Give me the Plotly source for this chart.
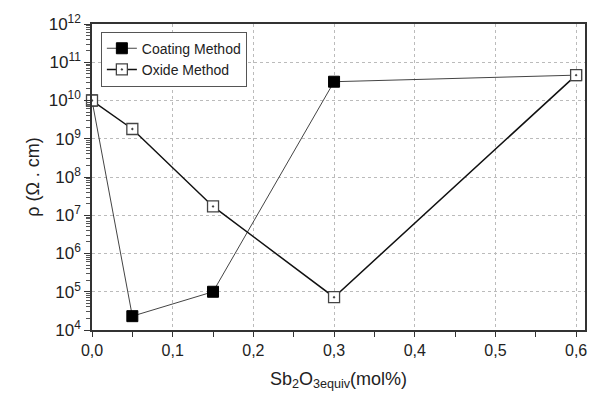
import plotly.graph_objects as go

# Sb2O3 equivalent content (mol%) and resistivity (ohm.cm)
x_coating = [0.0, 0.05, 0.15, 0.30, 0.60]
rho_coating = [1.0e10, 2.3e4, 1.0e5, 3.1e10, 4.6e10]

x_oxide = [0.0, 0.05, 0.15, 0.30, 0.60]
rho_oxide = [1.0e10, 1.8e9, 1.7e7, 7.2e4, 4.6e10]

x_tick_vals = [0.0, 0.1, 0.2, 0.3, 0.4, 0.5, 0.6]
x_tick_text = ["0,0", "0,1", "0,2", "0,3", "0,4", "0,5", "0,6"]
y_exponents = list(range(4, 13))

FONT = "Arial, Liberation Sans, sans-serif"

fig = go.Figure()
fig.add_trace(go.Scatter(
    x=x_coating, y=rho_coating, name="Coating Method",
    mode="lines+markers", cliponaxis=False,
    line=dict(color="#444444", width=1),
    marker=dict(symbol="square", size=11, color="black",
                line=dict(color="black", width=1)),
))
fig.add_trace(go.Scatter(
    x=x_oxide, y=rho_oxide, name="Oxide Method",
    mode="lines+markers", cliponaxis=False,
    line=dict(color="#111111", width=1.5),
    marker=dict(symbol="square-dot", size=11, color="white",
                line=dict(color="#444444", width=1.3)),
))

fig.update_layout(
    width=600, height=399,
    margin=dict(l=92, r=15, t=20, b=69),
    paper_bgcolor="white", plot_bgcolor="white",
    font=dict(family=FONT, color="#222222", size=15),
    showlegend=True,
    legend=dict(
        x=0.018, y=0.975, xanchor="left", yanchor="top",
        bgcolor="white", bordercolor="#555555", borderwidth=1,
        font=dict(size=14, family=FONT),
        tracegroupgap=0, itemwidth=30,
    ),
)

fig.update_xaxes(
    range=[0, 0.611],
    tickvals=x_tick_vals, ticktext=x_tick_text,
    ticks="outside", ticklen=5, tickwidth=1, tickcolor="#333333",
    minor=dict(tickvals=[0.05, 0.15, 0.25, 0.35, 0.45, 0.55],
               ticks="outside", ticklen=5, tickcolor="#333333", showgrid=False),
    showgrid=True, gridcolor="#bbbbbb", griddash="dot", gridwidth=1,
    showline=True, linecolor="#333333", linewidth=1.5, mirror=True,
    zeroline=False,
    tickfont=dict(size=16),
    title=dict(text="Sb<sub>2</sub>O<sub>3equiv</sub>(mol%)", font=dict(size=18), standoff=14),
)

fig.update_yaxes(
    type="log", range=[4, 12],
    tickvals=[10 ** e for e in y_exponents],
    ticktext=[f"10<sup>{e}</sup>" for e in y_exponents],
    ticks="outside", ticklen=6, tickwidth=1, tickcolor="#333333",
    minor=dict(ticks="outside", ticklen=4, dtick="D1", tickcolor="#555555", showgrid=False),
    showgrid=True, gridcolor="#bbbbbb", griddash="dot", gridwidth=1,
    showline=True, linecolor="#333333", linewidth=1.5, mirror=True,
    zeroline=False,
    tickfont=dict(size=17),
    title=dict(text="ρ (Ω . cm)", font=dict(size=18), standoff=4),
)

fig.write_html("out.html")
